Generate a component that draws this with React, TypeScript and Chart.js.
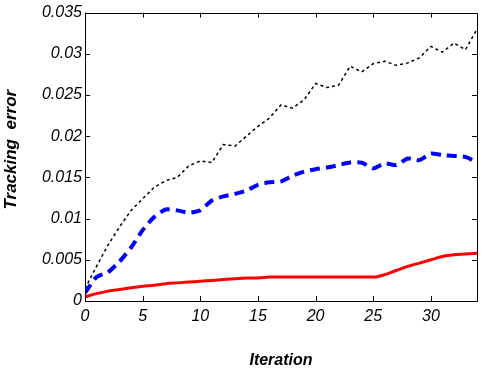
import React, { useEffect, useRef } from "react";
import { Chart, registerables } from "chart.js";

Chart.register(...registerables);

const iterations = [0,1,2,3,4,5,6,7,8,9,10,11,12,13,14,15,16,17,18,19,20,21,22,23,24,25,26,27,28,29,30,31,32,33,34];

const redSeries = [0.0005,0.0009,0.0012,0.0014,0.0016,0.0018,0.0019,0.0021,0.0022,0.0023,0.0024,0.0025,0.0026,0.0027,0.0028,0.0028,0.0029,0.0029,0.0029,0.0029,0.0029,0.0029,0.0029,0.0029,0.0029,0.0029,0.0032,0.0037,0.0042,0.0046,0.0050,0.0054,0.0056,0.0057,0.0058];

const blueSeries = [0.0010,0.0029,0.0035,0.0048,0.0065,0.0086,0.0102,0.0111,0.0110,0.0107,0.0110,0.0122,0.0127,0.0130,0.0134,0.0141,0.0144,0.0145,0.0152,0.0157,0.0160,0.0162,0.0165,0.0168,0.0168,0.0161,0.0167,0.0165,0.0173,0.0171,0.0179,0.0177,0.0176,0.0175,0.0168];

const blackSeries = [0.0015,0.0042,0.0068,0.0090,0.0110,0.0124,0.0138,0.0146,0.0150,0.0164,0.0170,0.0168,0.0190,0.0188,0.0200,0.0212,0.0222,0.0238,0.0234,0.0244,0.0264,0.0259,0.0262,0.0285,0.0278,0.0288,0.0291,0.0286,0.0289,0.0295,0.0309,0.0302,0.0313,0.0305,0.0330];

const xTickStep = 5;
const yTickStep = 0.005;
const xMax = 34;
const yMax = 0.035;

const boxPlugin = {
  id: "boxTicks",
  afterDraw(chart: any) {
    const { ctx, chartArea } = chart;
    const { left, right, top, bottom } = chartArea;
    const xs = chart.scales.x;
    const ys = chart.scales.y;
    const len = 5;
    ctx.save();
    ctx.strokeStyle = "#000";
    ctx.lineWidth = 1;
    ctx.beginPath();
    ctx.rect(Math.round(left) + 0.5, Math.round(top) + 0.5, Math.round(right - left), Math.round(bottom - top));
    xs.ticks.forEach((t: any) => {
      const px = Math.round(xs.getPixelForValue(t.value)) + 0.5;
      ctx.moveTo(px, bottom);
      ctx.lineTo(px, bottom - len);
      ctx.moveTo(px, top);
      ctx.lineTo(px, top + len);
    });
    ys.ticks.forEach((t: any) => {
      const py = Math.round(ys.getPixelForValue(t.value)) + 0.5;
      ctx.moveTo(left, py);
      ctx.lineTo(left + len, py);
      ctx.moveTo(right, py);
      ctx.lineTo(right - len, py);
    });
    ctx.stroke();
    ctx.restore();
  },
};

export default function App() {
  const ref = useRef<HTMLCanvasElement | null>(null);
  useEffect(() => {
    if (!ref.current) return;
    const tickFont = { family: "'Liberation Sans', Arial, sans-serif", style: "italic" as const, size: 16 };
    const titleFont = { family: "'Liberation Sans', Arial, sans-serif", style: "italic" as const, weight: "bold" as const, size: 16 };
    const chart = new Chart(ref.current, {
      type: "line",
      data: {
        datasets: [
          {
            label: "black",
            data: iterations.map((x, i) => ({ x, y: blackSeries[i] })),
            borderColor: "#000",
            borderWidth: 1.5,
            borderDash: [3, 3],
            pointRadius: 0,
            tension: 0,
            fill: false,
          },
          {
            label: "blue",
            data: iterations.map((x, i) => ({ x, y: blueSeries[i] })),
            borderColor: "#0000ff",
            borderWidth: 4,
            borderDash: [10, 6],
            pointRadius: 0,
            tension: 0.2,
            fill: false,
          },
          {
            label: "red",
            data: iterations.map((x, i) => ({ x, y: redSeries[i] })),
            borderColor: "#ff0000",
            borderWidth: 3,
            pointRadius: 0,
            cubicInterpolationMode: "monotone",
            fill: false,
          },
        ],
      },
      options: {
        responsive: false,
        animation: false,
        layout: { padding: { left: 0, right: 8, top: 11, bottom: 0 } },
        plugins: { legend: { display: false }, tooltip: { enabled: false } },
        scales: {
          x: {
            type: "linear",
            min: 0,
            max: xMax,
            grid: { display: false, drawTicks: false },
            border: { display: false },
            afterBuildTicks: (s: any) => {
              s.ticks = s.ticks.filter((t: any) => t.value % xTickStep === 0);
            },
            ticks: {
              stepSize: xTickStep,
              padding: 6,
              color: "#000",
              font: tickFont,
              maxRotation: 0,
            },
            title: {
              display: true,
              text: "Iteration",
              color: "#000",
              font: titleFont,
              padding: { top: 0, bottom: 4 },
            },
            afterFit: (s: any) => {
              s.height = 73;
            },
          },
          y: {
            type: "linear",
            min: 0,
            max: yMax,
            grid: { display: false, drawTicks: false },
            border: { display: false },
            ticks: {
              stepSize: yTickStep,
              padding: 3,
              color: "#000",
              font: tickFont,
              callback: (v: any) => String(Number(Number(v).toFixed(3))),
            },
            title: {
              display: true,
              text: "   Tracking  error",
              color: "#000",
              font: { ...titleFont, size: 17 },
              padding: { top: 1, bottom: 0 },
            },
            afterFit: (s: any) => {
              s.width = 85;
            },
          },
        },
      },
      plugins: [boxPlugin],
    });
    return () => chart.destroy();
  }, []);
  return (
    <div style={{ position: "fixed", left: 0, top: 0, width: 485, height: 374, background: "#fff" }}>
      <canvas ref={ref} width={485} height={374} style={{ display: "block" }} />
    </div>
  );
}
